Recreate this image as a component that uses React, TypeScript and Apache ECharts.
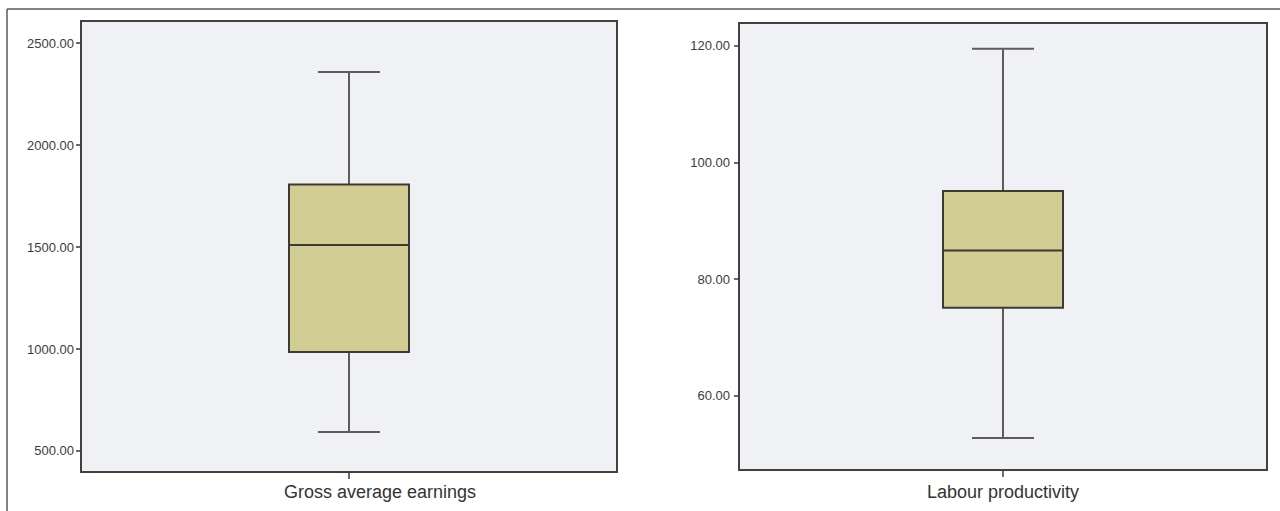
import React, { useEffect, useRef } from "react";
import * as echarts from "echarts";

// Box plot statistics: [min, Q1, median, Q3, max]
const earningsCategories = ["Gross average earnings"];
const earningsStats = [[593, 985, 1510, 1807, 2358]];
const earningsTicks = [500, 1000, 1500, 2000, 2500];

const productivityCategories = ["Labour productivity"];
const productivityStats = [[52.8, 75.1, 84.9, 95.1, 119.5]];
const productivityTicks = [60, 80, 100, 120];

const BOX_HALF = 60;
const CAP_HALF = 31;
const WHISKER = "#5f5b58";
const BOX_FILL = "#d2cd93";
const BOX_STROKE = "#3d3a33";

const renderBox = (params: any, api: any) => {
  const x = api.value(0);
  const pMin = api.coord([x, api.value(1)]);
  const cx = pMin[0];
  const yMin = pMin[1];
  const yQ1 = api.coord([x, api.value(2)])[1];
  const yMed = api.coord([x, api.value(3)])[1];
  const yQ3 = api.coord([x, api.value(4)])[1];
  const yMax = api.coord([x, api.value(5)])[1];
  const ls = { stroke: WHISKER, lineWidth: 2 };
  return {
    type: "group",
    children: [
      { type: "line", shape: { x1: cx, y1: yMax, x2: cx, y2: yQ3 }, style: ls },
      { type: "line", shape: { x1: cx, y1: yQ1, x2: cx, y2: yMin }, style: ls },
      { type: "line", shape: { x1: cx - CAP_HALF, y1: yMax, x2: cx + CAP_HALF, y2: yMax }, style: ls },
      { type: "line", shape: { x1: cx - CAP_HALF, y1: yMin, x2: cx + CAP_HALF, y2: yMin }, style: ls },
      {
        type: "rect",
        shape: { x: cx - BOX_HALF, y: yQ3, width: BOX_HALF * 2, height: yQ1 - yQ3 },
        style: { fill: BOX_FILL, stroke: BOX_STROKE, lineWidth: 2 },
      },
      {
        type: "line",
        shape: { x1: cx - BOX_HALF, y1: yMed, x2: cx + BOX_HALF, y2: yMed },
        style: { stroke: BOX_STROKE, lineWidth: 2 },
      },
    ],
  };
};

const toData = (stats: number[][]) => stats.map((s, i) => [i, ...s]);

const yAxisBase = (min: number, max: number, ticks: number[], gridIndex: number, margin: number) => ({
  type: "value",
  gridIndex,
  min,
  max,
  splitLine: { show: false },
  axisLine: { show: false },
  axisTick: {
    show: true,
    length: 5,
    customValues: ticks,
    lineStyle: { color: "#3a3a3a", width: 1.5 },
  },
  axisLabel: {
    customValues: ticks,
    margin,
    color: "#3c3c3c",
    fontSize: 13,
    fontFamily: "Liberation Sans, Arial, sans-serif",
    formatter: (v: number) => v.toFixed(2),
  },
});

const xAxisBase = (cats: string[], gridIndex: number, pad: number, margin: number) => ({
  type: "category",
  gridIndex,
  data: cats,
  axisLine: { show: false },
  axisTick: {
    show: true,
    alignWithLabel: true,
    length: 7,
    lineStyle: { color: "#3a3a3a", width: 1.5 },
  },
  axisLabel: {
    margin,
    color: "#333333",
    fontSize: 18,
    fontFamily: "Liberation Sans, Arial, sans-serif",
    padding: [0, 0, 0, pad],
  },
});

export default function App() {
  const ref = useRef<HTMLDivElement>(null);
  useEffect(() => {
    if (!ref.current) return;
    const chart = echarts.init(ref.current, undefined, { renderer: "svg" });
    const gridStyle = {
      show: true,
      backgroundColor: "#eff1f4",
      borderColor: "#444040",
      borderWidth: 2,
    };
    chart.setOption({
      animation: false,
      backgroundColor: "#ffffff",
      graphic: [
        { type: "line", shape: { x1: 7, y1: 9, x2: 1280, y2: 9 }, style: { stroke: "#5a5a5a", lineWidth: 1.5 } },
        { type: "line", shape: { x1: 7, y1: 9, x2: 7, y2: 511 }, style: { stroke: "#5a5a5a", lineWidth: 1.5 } },
      ],
      grid: [
        { left: 81, top: 21, width: 536, height: 451, ...gridStyle },
        { left: 739, top: 23, width: 528, height: 447, ...gridStyle },
      ],
      xAxis: [xAxisBase(earningsCategories, 0, 62, 11), xAxisBase(productivityCategories, 1, 0, 13)],
      yAxis: [
        yAxisBase(397, 2608, earningsTicks, 0, 7),
        yAxisBase(47.3, 123.9, productivityTicks, 1, 9),
      ],
      series: [
        {
          type: "custom",
          xAxisIndex: 0,
          yAxisIndex: 0,
          renderItem: renderBox,
          encode: { x: 0, y: [1, 2, 3, 4, 5] },
          data: toData(earningsStats),
        },
        {
          type: "custom",
          xAxisIndex: 1,
          yAxisIndex: 1,
          renderItem: renderBox,
          encode: { x: 0, y: [1, 2, 3, 4, 5] },
          data: toData(productivityStats),
        },
      ],
    });
    return () => chart.dispose();
  }, []);
  return (
    <div
      ref={ref}
      style={{ position: "fixed", left: 0, top: 0, width: 1280, height: 511 }}
    />
  );
}
